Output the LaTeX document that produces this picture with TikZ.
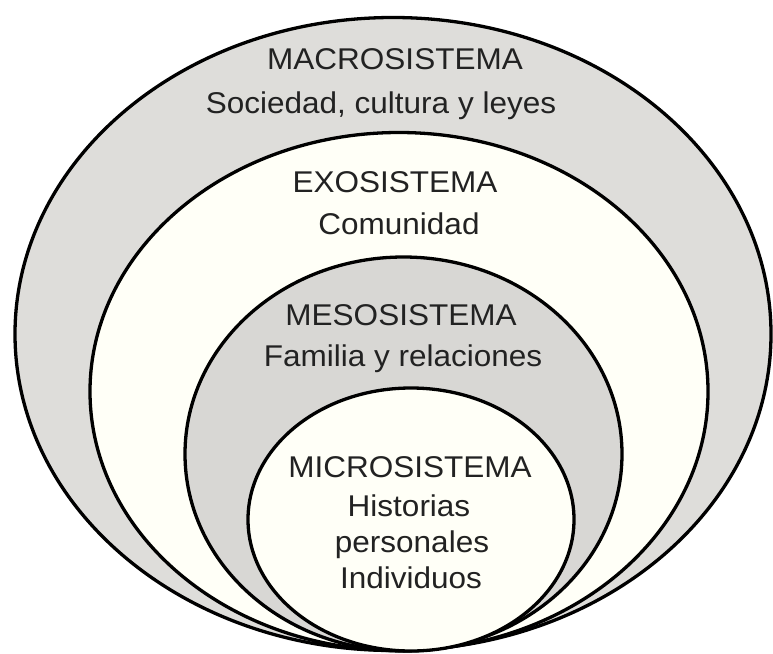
\documentclass[tikz,border=0pt]{standalone}
\usepackage{fontspec}
\setmainfont{Liberation Sans}
\definecolor{ringgray}{HTML}{DEDDDA}
\definecolor{ringgrayb}{HTML}{D8D7D4}
\definecolor{ringcream}{HTML}{FFFFF7}
\definecolor{txt}{HTML}{222222}
\begin{document}
\begin{tikzpicture}[x=1pt,y=-1pt,
  ring/.style={draw=black,line width=3.3pt},
  lbl/.style={anchor=base,inner sep=0pt,text=txt,font=\fontsize{30}{36}\selectfont}]
\useasboundingbox (0,0) rectangle (773,653);
\fill[white] (0,0) rectangle (773,653);
\draw[ring,fill=ringgray]  (393,334)   ellipse [x radius=378,y radius=316.5];
\draw[ring,fill=ringcream] (399,391.5) ellipse [x radius=309,y radius=259];
\draw[ring,fill=ringgrayb] (403.5,454) ellipse [x radius=218.5,y radius=197];
\draw[ring,fill=ringcream] (411,519.5) ellipse [x radius=163,y radius=131.5];
\newcommand{\wide}[1]{\scalebox{1.05}[1]{#1}}
\node[lbl] (macro) at (395,69)  {\wide{MACROSISTEMA}};
\node[lbl] (macrod) at (381,113) {\wide{Sociedad, cultura y leyes}};
\node[lbl] (exo) at (395,192) {\wide{EXOSISTEMA}};
\node[lbl] (exod) at (399,234) {\wide{Comunidad}};
\node[lbl] (meso) at (401,325) {\wide{MESOSISTEMA}};
\node[lbl] (mesod) at (403,366) {\wide{Familia y relaciones}};
\node[lbl] (micro) at (410,477) {\wide{MICROSISTEMA}};
\node[lbl] (microa) at (409,516) {\wide{Historias}};
\node[lbl] (microb) at (412,552) {\wide{personales}};
\node[lbl] (microc) at (411,588) {\wide{Individuos}};
\end{tikzpicture}
\end{document}
